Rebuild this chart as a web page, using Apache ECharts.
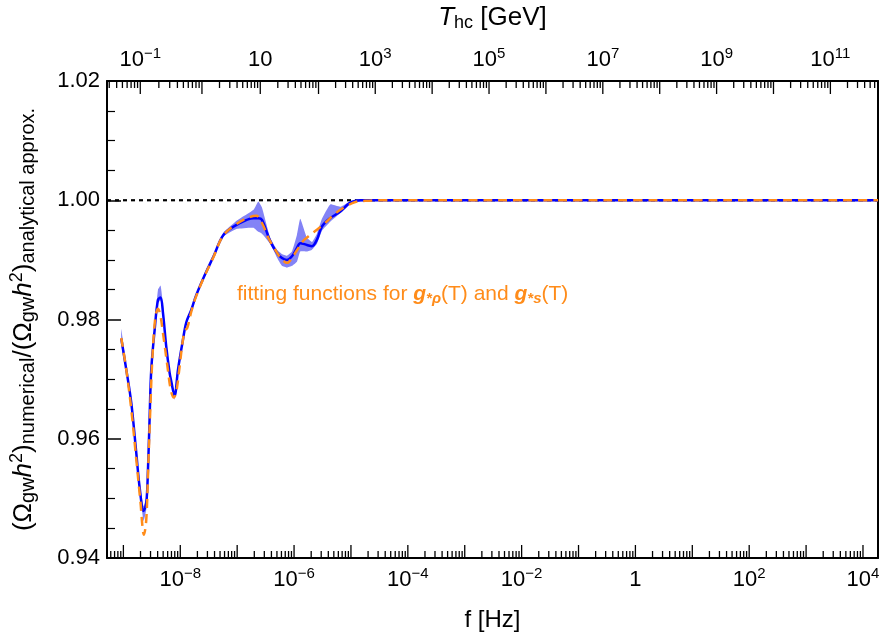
<!DOCTYPE html>
<html>
<head>
<meta charset="utf-8">
<script src="https://cdn.jsdelivr.net/npm/echarts@6/dist/echarts.min.js"></script>
<style>
html,body{margin:0;padding:0;background:#fff;}
#chart{width:885px;height:642px;}
</style>
</head>
<body>
<div id="chart"></div>
<script>
// ---------- data (x values are log10 of f in Hz) ----------
const xRange = [-9.288, 4.264];          // log10 f at the frame edges
const yRange = [0.94, 1.02];
const refValue = 1.0;

const blueLogF = [-9.037,-8.949,-8.861,-8.773,-8.715,-8.645,-8.598,-8.568,-8.540,-8.510,
  -8.452,-8.392,-8.346,-8.304,-8.246,-8.188,-8.158,-8.100,-8.040,-7.953,
  -7.895,-7.807,-7.731,-7.591,-7.415,-7.239,-7.004,-6.712,-6.629,-6.564,
  -6.418,-6.301,-6.213,-6.125,-6.037,-5.949,-5.891,-5.773,-5.685,-5.598,
  -5.510,-5.364,-5.188,-5.012,-4.837,-4.5,-4,-3,-2,-1,0,1,2,3,4,4.264];
const blueVal = [0.9768,0.9716,0.9660,0.9576,0.9519,0.9479,0.9492,0.9548,0.9632,0.9716,
  0.9781,0.9833,0.9837,0.9811,0.9754,0.9711,0.9696,0.9672,0.9716,0.9766,
  0.9795,0.9816,0.9838,0.9870,0.9906,0.9942,0.9959,0.9970,0.9970,0.9967,
  0.9931,0.9912,0.9903,0.9900,0.9906,0.9920,0.9928,0.9925,0.9923,0.9934,
  0.9956,0.9970,0.9981,0.9996,1.0000,1.0,1.0,1.0,1.0,1.0,1.0,1.0,1.0,1.0,1.0,1.0];
const bandHi = [0.9784,0.9722,0.9665,0.9581,0.9524,0.9487,0.9501,0.9553,0.9637,0.9722,
  0.9791,0.9850,0.9857,0.9825,0.9759,0.9714,0.9699,0.9677,0.9719,0.9769,
  0.9798,0.9819,0.9841,0.9873,0.9909,0.9946,0.9966,0.9984,0.9998,0.9988,
  0.9937,0.9917,0.9910,0.9907,0.9914,0.9942,0.9969,0.9937,0.9930,0.9944,
  0.9969,0.9993,0.9989,0.99985,1.0002,1.0001,1.0001,1.0001,1.0001,1.0001,1.0001,1.0001,1.0001,1.0001,1.0001,1.0001];
const bandLo = [0.9758,0.9711,0.9655,0.9571,0.9513,0.9462,0.9481,0.9541,0.9627,0.9711,
  0.9778,0.9828,0.9832,0.9806,0.9749,0.9706,0.9690,0.9665,0.9711,0.9763,
  0.9791,0.9813,0.9835,0.9867,0.9904,0.9939,0.9952,0.9954,0.9947,0.9944,
  0.9927,0.9904,0.9890,0.9887,0.9890,0.9897,0.9914,0.9914,0.9917,0.9927,
  0.9949,0.9964,0.9978,0.9993,0.9998,0.9999,0.9999,0.9999,0.9999,0.9999,0.9999,0.9999,0.9999,0.9999,0.9999,0.9999];

const orangeLogF = [-9.037,-8.949,-8.861,-8.773,-8.703,-8.638,-8.598,-8.562,-8.527,-8.492,
  -8.439,-8.392,-8.352,-8.299,-8.229,-8.167,-8.114,-8.070,-8.018,-7.965,
  -7.921,-7.877,-7.807,-7.736,-7.596,-7.420,-7.244,-6.998,-6.770,-6.664,
  -6.559,-6.453,-6.330,-6.225,-6.120,-6.032,-5.944,-5.838,-5.715,-5.592,
  -5.452,-5.276,-5.100,-4.924,-4.749,-4.5,-4,-3,-2,-1,0,1,2,3,4,4.264];
const orangeVal = [0.9769,0.9716,0.9649,0.9565,0.9497,0.9439,0.9464,0.9556,0.9649,0.9732,
  0.9803,0.9818,0.9808,0.9774,0.9724,0.9682,0.9669,0.9679,0.9716,0.9758,
  0.9781,0.9786,0.9813,0.9835,0.9868,0.9904,0.9941,0.9961,0.9972,0.9974,
  0.9961,0.9937,0.9917,0.9902,0.9895,0.9904,0.9917,0.9932,0.9942,0.9951,
  0.9962,0.9978,0.9989,0.9997,0.9999,1.0,1.0,1.0,1.0,1.0,1.0,1.0,1.0,1.0,1.0,1.0];

// bottom axis: decades of f
const fDecades = [-10,-9,-8,-7,-6,-5,-4,-3,-2,-1,0,1,2,3,4];
const fLabelExps = [-8,-6,-4,-2,0,2,4];
// top axis: T_hc [GeV] decade positions (log10 T -> log10 f)
const tAnchorLogT = [-2,-1,0,1,2,3,12];
const tAnchorLogF = [-9.746,-8.703,-7.619,-6.594,-5.570,-4.573,4.427];
const tDecades = [-2,-1,0,1,2,3,4,5,6,7,8,9,10,11];
const tLabelExps = [-1,1,3,5,7,9,11];
const minorMult = [2,3,4,5,6,7,8,9];

// ---------- helpers ----------
function tToF(lt){
  for (let i=0;i<tAnchorLogT.length-1;i++){
    const a=tAnchorLogT[i], b=tAnchorLogT[i+1];
    if (lt>=a && lt<=b){
      const u=(lt-a)/(b-a);
      return tAnchorLogF[i]+u*(tAnchorLogF[i+1]-tAnchorLogF[i]);
    }
  }
  return NaN;
}
const inRange = v => v>=xRange[0]-1e-9 && v<=xRange[1]+1e-9;
function expLabel(e){
  if (e===0) return '{b|1}{s|\u200B}';
  if (e===1) return '{b|10}{s|\u200B}';
  return '{b|10}{s|' + (e<0?'\u2212':'') + Math.abs(e) + '}';
}

// tick items: [logf, kind(0 major,1 minor), side(0 bottom,1 top), labelExp or null]
const tickItems = [];
fDecades.forEach(e=>{
  if (inRange(e)) tickItems.push([e,0,0, fLabelExps.includes(e)? e : null]);
  minorMult.forEach(m=>{ const v=e+Math.log10(m); if(inRange(v)) tickItems.push([v,1,0,null]); });
});
tDecades.forEach(e=>{
  const v0=tToF(e);
  if (inRange(v0)) tickItems.push([v0,0,1, tLabelExps.includes(e)? e : null]);
  minorMult.forEach(m=>{ const v=tToF(e+Math.log10(m)); if(inRange(v)) tickItems.push([v,1,1,null]); });
});

const FONT = '"Liberation Sans", Arial, Helvetica, sans-serif';
const richNum = {
  b:{fontSize:22, fontFamily:FONT, color:'#000'},
  s:{fontSize:15, fontFamily:FONT, color:'#000', padding:[0,0,13,0]}
};

const chart = echarts.init(document.getElementById('chart'), null, {renderer:'canvas'});
const pairs = (xs, ys) => xs.map((x,i)=>[x, ys[i]]);

const option = {
  animation:false,
  backgroundColor:'#fff',
  grid:{left:107, right:7, top:81, bottom:84, containLabel:false, outerBoundsMode:'none'},
  xAxis:[
    {type:'value', min:xRange[0], max:xRange[1], position:'bottom',
     axisLine:{show:true, onZero:false, lineStyle:{color:'#000', width:2}},
     axisTick:{show:false}, axisLabel:{show:false}, splitLine:{show:false},
     name:'f [Hz]', nameLocation:'middle', nameGap:50,
     nameTextStyle:{fontSize:24, fontFamily:FONT, color:'#000'}},
    {type:'value', min:xRange[0], max:xRange[1], position:'top',
     axisLine:{show:true, onZero:false, lineStyle:{color:'#000', width:2}},
     axisTick:{show:false}, axisLabel:{show:false}, splitLine:{show:false},
     name:'{i|T}{sub|hc}{n| [GeV]}', nameLocation:'middle', nameGap:49,
     nameTextStyle:{rich:{
       i:{fontSize:26, fontFamily:FONT, fontStyle:'italic', color:'#000'},
       sub:{fontSize:18, fontFamily:FONT, color:'#000', padding:[10,0,0,0]},
       n:{fontSize:26, fontFamily:FONT, color:'#000'}
     }}}
  ],
  yAxis:[
    {type:'value', min:yRange[0], max:yRange[1], interval:0.02, position:'left',
     axisLine:{show:true, onZero:false, lineStyle:{color:'#000', width:2}},
     axisTick:{show:true, inside:true, length:14, lineStyle:{color:'#000', width:1.5}},
     minorTick:{show:true, splitNumber:4, length:8, lineStyle:{color:'#000', width:1.2}},
     axisLabel:{formatter:v=>v.toFixed(2), fontSize:22, fontFamily:FONT, color:'#000', margin:7},
     splitLine:{show:false},
     name:'{n|(\u03A9}{sub|gw}{i|h}{sup|2}{n|)}{sub|numerical}{n|/(\u03A9}{sub|gw}{i|h}{sup|2}{n|)}{sub|analytical approx.}',
     nameLocation:'middle', nameRotate:90, nameGap:68,
     nameTextStyle:{rich:{
       n:{fontSize:26, fontFamily:FONT, color:'#000'},
       i:{fontSize:26, fontFamily:FONT, fontStyle:'italic', color:'#000'},
       sub:{fontSize:20, fontFamily:FONT, color:'#000', padding:[10,0,0,0]},
       sup:{fontSize:18, fontFamily:FONT, color:'#000', padding:[0,0,13,0]}
     }}},
    {type:'value', min:yRange[0], max:yRange[1], interval:0.02, position:'right',
     axisLine:{show:true, onZero:false, lineStyle:{color:'#000', width:2}},
     axisTick:{show:false}, axisLabel:{show:false}, splitLine:{show:false}}
  ],
  series:[
    {type:'line', name:'ref', data:[[xRange[0],refValue],[xRange[1],refValue]],
     symbol:'none', z:1, silent:true,
     lineStyle:{color:'#000', width:2.2, type:[4,4]}},
    {type:'custom', name:'band', data:[[blueLogF[0], bandLo[0]]], z:2, silent:true,
     renderItem:function(params, api){
       const pts = [];
       for (let i=0;i<blueLogF.length;i++) pts.push(api.coord([blueLogF[i], bandHi[i]]));
       for (let i=blueLogF.length-1;i>=0;i--) pts.push(api.coord([blueLogF[i], bandLo[i]]));
       return {type:'polygon', shape:{points:pts, smooth:0.12},
               style:{fill:'#8383f6', stroke:null}};
     }},
    {type:'line', name:'numerical', data:pairs(blueLogF, blueVal),
     symbol:'none', smooth:0.35, z:3, lineStyle:{color:'#0000ff', width:2.5}},
    {type:'line', name:'fit', data:pairs(orangeLogF, orangeVal),
     symbol:'none', smooth:0.35, z:4, lineStyle:{color:'#ff8c1a', width:2.5, type:[9,6]}},
    {type:'custom', name:'xticks', data:tickItems, z:10, silent:true, clip:false,
     encode:{x:0},
     renderItem:function(params, api){
       const cs = params.coordSys;
       const x = api.coord([api.value(0), yRange[0]])[0];
       const kind = api.value(1), side = api.value(2);
       const len = kind===0 ? 13 : 7;
       const children = [];
       if (side===0){
         children.push({type:'line', shape:{x1:x, y1:cs.y+cs.height, x2:x, y2:cs.y+cs.height-len},
           style:{stroke:'#000', lineWidth:1.3}});
       } else {
         children.push({type:'line', shape:{x1:x, y1:cs.y, x2:x, y2:cs.y+len},
           style:{stroke:'#000', lineWidth:1.3}});
       }
       const lab = tickItems[params.dataIndex][3];
       if (lab!==null && lab!==undefined){
         children.push({type:'text', x:x, y: side===0 ? cs.y+cs.height+8 : cs.y-7,
           style:{text:expLabel(lab), rich:richNum, align:'center',
                  verticalAlign: side===0 ? 'top' : 'bottom'}});
       }
       return {type:'group', children:children};
     }}
  ],
  graphic:[
    {type:'text', left:237, top:284, z:20,
     style:{text:'{n|fitting functions for }{g|g}{sub|*\u03C1}{n|(T) and }{g|g}{sub|*s}{n|(T)}',
       rich:{
         n:{fontSize:21, fontFamily:FONT, fill:'#ff8c1a'},
         g:{fontSize:21, fontFamily:FONT, fontStyle:'italic', fontWeight:'bold', fill:'#ff8c1a'},
         sub:{fontSize:15, fontFamily:FONT, fontStyle:'italic', fontWeight:'bold', fill:'#ff8c1a', padding:[8,0,0,0]}
       }}}
  ]
};
chart.setOption(option);
</script>
</body>
</html>
